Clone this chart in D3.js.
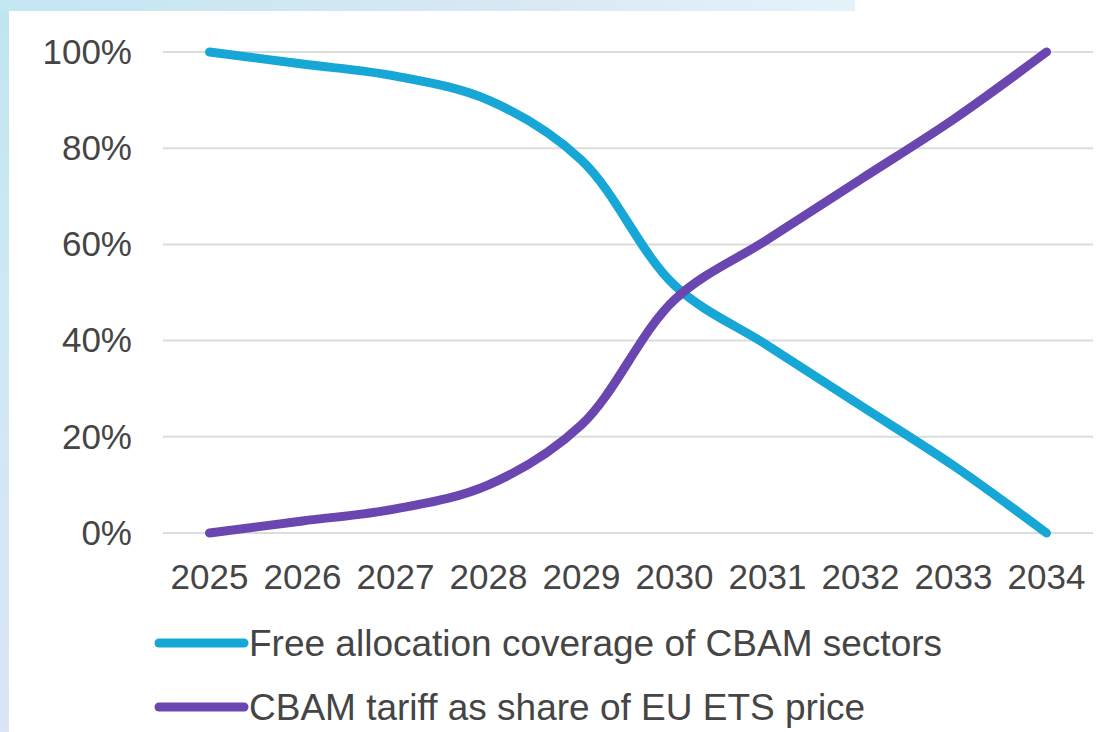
<!DOCTYPE html>
<html>
<head>
<meta charset="utf-8">
<script src="https://cdn.jsdelivr.net/npm/d3@7"></script>
<style>
  body { margin: 0; background: #fff; }
  svg { display: block; font-family: "Liberation Sans", Arial, sans-serif; }
</style>
</head>
<body>
<svg id="chart"></svg>
<script>
const years = ["2025", "2026", "2027", "2028", "2029", "2030", "2031", "2032", "2033", "2034"];
const freeAllocation = [100, 97.5, 95, 90, 77.5, 51.5, 39, 26.5, 14, 0];
const cbamTariff = [0, 2.5, 5, 10, 22.5, 48.5, 61, 73.5, 86, 100];
const yTicks = [0, 20, 40, 60, 80, 100];
const seriesNames = ["Free allocation coverage of CBAM sectors", "CBAM tariff as share of EU ETS price"];
const seriesColors = ["#17a7d6", "#6a46b0"];

const W = 1097, H = 732;
const svg = d3.select("#chart").attr("width", W).attr("height", H);

// decorative background
const defs = svg.append("defs");
const grad = defs.append("linearGradient").attr("id", "side").attr("x1", 0).attr("y1", 0).attr("x2", 0).attr("y2", 1);
grad.append("stop").attr("offset", "0%").attr("stop-color", "#bfe5f1");
grad.append("stop").attr("offset", "40%").attr("stop-color", "#cde9f3");
grad.append("stop").attr("offset", "100%").attr("stop-color", "#dbe5f3");
const gradTop = defs.append("linearGradient").attr("id", "topband").attr("x1", 0).attr("y1", 0).attr("x2", 1).attr("y2", 0);
gradTop.append("stop").attr("offset", "0%").attr("stop-color", "#c3e6f1");
gradTop.append("stop").attr("offset", "60%").attr("stop-color", "#d8e8f4");
gradTop.append("stop").attr("offset", "100%").attr("stop-color", "#e6f2fa");
svg.append("rect").attr("x", 0).attr("y", 0).attr("width", 9).attr("height", H).attr("fill", "url(#side)");
svg.append("rect").attr("x", 0).attr("y", 0).attr("width", 855).attr("height", 11).attr("fill", "url(#topband)");

const margin = { top: 52, left: 163, right: 4, bottom: 199 };
const width = W - margin.left - margin.right;
const height = H - margin.top - margin.bottom;

const chart = svg.append("g").attr("transform", `translate(${margin.left},${margin.top})`);

const x = d3.scaleBand().domain(years).range([0, width]);
const y = d3.scaleLinear().domain([0, 100]).range([height, 0]);

// gridlines
chart.append("g")
    .selectAll("line").data(yTicks).enter().append("line")
    .attr("x1", 0).attr("x2", width)
    .attr("y1", d => y(d)).attr("y2", d => y(d))
    .attr("stroke", "#dcdcdc").attr("stroke-width", 2);

const yAxis = chart.append("g")
    .call(d3.axisLeft(y).tickValues(yTicks).tickFormat(d => d + "%").tickSize(0).tickPadding(31));
yAxis.select(".domain").remove();
yAxis.selectAll("text").attr("font-size", 35).attr("fill", "#454545").attr("font-family", "Liberation Sans, Arial, sans-serif");

const xAxis = chart.append("g")
    .attr("transform", `translate(0,${height})`)
    .call(d3.axisBottom(x).tickSize(0).tickPadding(31));
xAxis.select(".domain").remove();
xAxis.selectAll("text").attr("font-size", 35).attr("fill", "#454545").attr("font-family", "Liberation Sans, Arial, sans-serif");

const line = d3.line()
    .x((d, i) => x(years[i]) + x.bandwidth() / 2)
    .y(d => y(d))
    .curve(d3.curveCatmullRom.alpha(0.5));

[freeAllocation, cbamTariff].forEach((s, i) => {
    chart.append("path")
        .datum(s)
        .attr("d", line)
        .attr("fill", "none")
        .attr("stroke", seriesColors[i])
        .attr("stroke-width", 9)
        .attr("stroke-linecap", "round")
        .attr("stroke-linejoin", "round");
});

// legend
const legend = svg.append("g");
seriesNames.forEach((name, i) => {
    const ly = 643 + i * 64;
    legend.append("line")
        .attr("x1", 159).attr("x2", 244)
        .attr("y1", ly).attr("y2", ly)
        .attr("stroke", seriesColors[i]).attr("stroke-width", 9)
        .attr("stroke-linecap", "round");
    legend.append("text")
        .attr("x", 249).attr("y", ly + 13)
        .attr("font-size", 37).attr("fill", "#454545")
        .text(name);
});
</script>
</body>
</html>
